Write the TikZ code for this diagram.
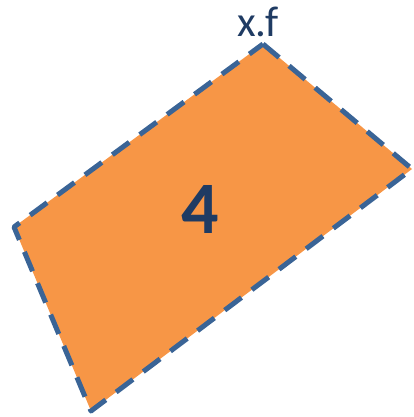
\documentclass[tikz,border=0pt]{standalone}
\usepackage{fontspec}
\setmainfont{Carlito}
\usepackage{xcolor}
\usepackage{tikz}
\definecolor{faceorange}{HTML}{F79646}
\definecolor{edgeblue}{HTML}{3A6496}
\definecolor{labelnavy}{HTML}{1F3B63}

\begin{document}
\begin{tikzpicture}[
  x=1pt, y=-1pt,
  face/.style={fill=faceorange, draw=edgeblue, line width=5pt,
               dash pattern=on 21pt off 13pt, line join=round},
  toplabel/.style={text=labelnavy, font=\fontsize{43}{43}\selectfont, inner sep=0pt},
  facelabel/.style={text=labelnavy, font=\fontsize{74}{74}\selectfont\bfseries, inner sep=0pt},
]
\useasboundingbox (0,0) rectangle (414,417);

% Face outline
\coordinate (top) at (263,44);
\coordinate (right) at (412,169);
\coordinate (bottom) at (91,411);
\coordinate (left) at (14,227);
\draw[face] (top) -- (right) -- (bottom) -- (left) -- cycle;

% Labels
\node[toplabel, anchor=base] (xf) at (258,37) {x.f};
\node[facelabel, anchor=base] (num) at (200,233) {4};

\end{tikzpicture}
\end{document}
